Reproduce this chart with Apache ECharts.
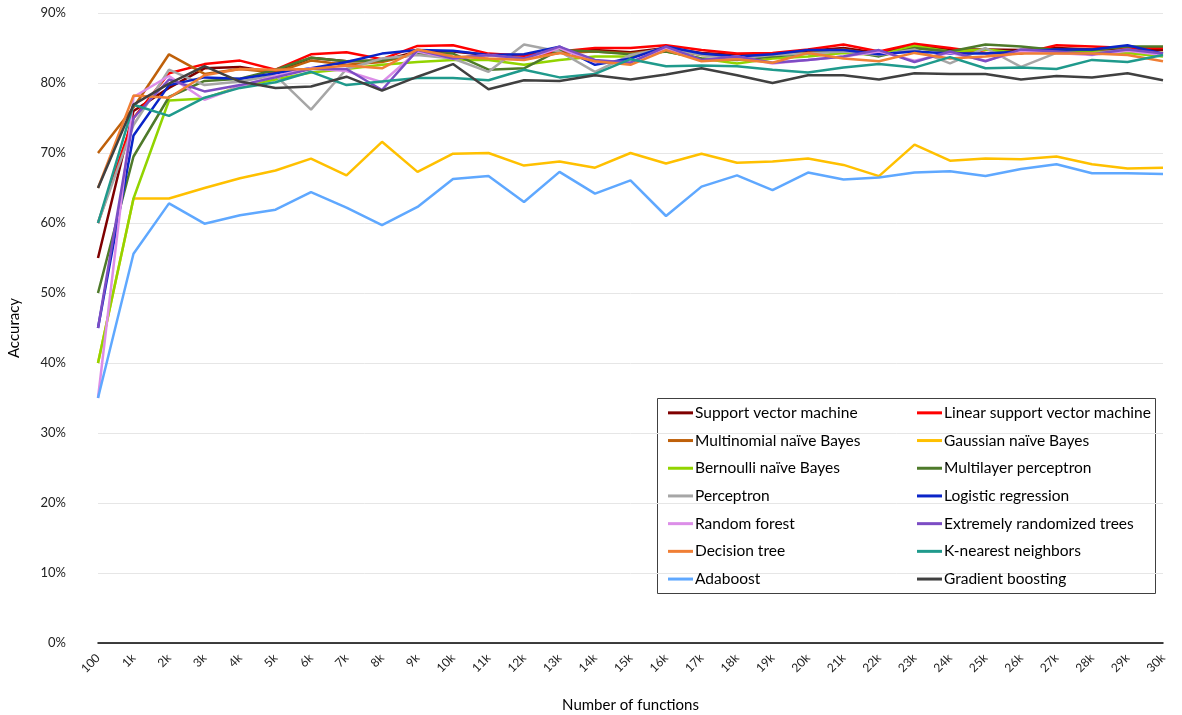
<!DOCTYPE html>
<html>
<head>
<meta charset="utf-8">
<script src="https://cdn.jsdelivr.net/npm/echarts@6/dist/echarts.min.js"></script>
<style>html,body{margin:0;padding:0;background:#fff;}#c{width:1182px;height:715px;}</style>
</head>
<body>
<div id="c"></div>
<script>
const categories = ['100','1k','2k','3k','4k','5k','6k','7k','8k','9k','10k','11k','12k','13k','14k','15k','16k','17k','18k','19k','20k','21k','22k','23k','24k','25k','26k','27k','28k','29k','30k'];
const yTicks = [0,10,20,30,40,50,60,70,80,90];

const svm = [55,76,79.3,82.1,82.3,81.5,83.6,83.1,83.2,84.5,84.5,84.0,84.0,84.5,84.7,84.4,85.0,84.3,84.0,84.2,84.6,85.0,84.3,85.3,84.8,84.8,84.7,85.0,84.8,84.8,84.7];
const linearSvm = [60,75,81.4,82.7,83.2,81.9,84.1,84.4,83.4,85.3,85.4,84.2,83.9,84.5,85.0,85.0,85.4,84.7,84.2,84.3,84.8,85.5,84.5,85.6,85.0,84.3,84.2,85.4,85.2,85.0,85.0];
const multinomialNB = [70,76.5,84.1,81.3,82.0,81.5,83.2,82.6,83.0,84.2,83.6,84.0,83.5,84.3,84.5,84.2,84.8,84.0,83.8,84.0,84.3,84.8,84.0,85.0,84.5,84.3,84.3,84.7,84.3,84.5,84.3];
const gaussianNB = [40,63.5,63.5,65.0,66.4,67.5,69.2,66.8,71.6,67.3,69.9,70.0,68.2,68.8,67.9,70.0,68.5,69.9,68.6,68.8,69.2,68.3,66.7,71.2,68.9,69.2,69.1,69.5,68.4,67.8,67.9];
const bernoulliNB = [40,63.5,77.5,77.8,79.5,80.5,81.5,82.0,82.6,83.0,83.3,83.3,82.6,83.3,83.8,83.8,84.5,83.5,82.8,83.5,83.8,84.3,84.0,85.3,84.5,84.8,84.3,84.5,84.5,84.3,83.8];
const mlp = [50,69.5,78.0,80.3,80.6,81.9,83.6,83.1,83.2,84.2,84.2,81.9,82.1,84.7,84.5,84.1,84.5,83.5,83.3,83.8,84.2,84.7,83.8,85.0,84.5,85.5,85.2,84.7,84.7,85.2,85.2];
const perceptron = [60,74,81.9,79.7,80.2,81.1,76.2,82.0,83.5,84.0,83.5,81.6,85.5,84.5,81.6,84.0,85.0,84.0,83.5,84.0,84.2,84.5,84.0,84.8,82.8,85.0,82.3,84.3,84.2,84.8,84.0];
const logistic = [45,72.5,79.7,80.8,80.6,81.4,82.1,83.0,84.2,84.7,84.6,84.0,84.1,85.2,82.6,83.5,85.2,84.2,83.8,84.1,84.7,84.7,84.1,84.5,84.2,84.2,84.5,84.8,84.8,85.4,84.2];
const randomForest = [35,78,81.0,77.6,79.5,81.0,82.1,81.7,80.1,84.5,83.5,84.0,83.4,85.0,83.0,83.0,85.0,83.2,83.8,82.8,83.3,83.8,84.5,83.2,84.3,83.2,84.5,84.3,84.0,84.6,84.0];
const extraTrees = [45,75,80.5,78.8,79.7,80.8,82.0,82.0,79.0,84.7,83.5,84.0,83.5,85.2,83.3,82.9,85.2,83.3,83.8,82.9,83.3,83.8,84.7,83.0,84.5,83.1,84.8,84.5,84.1,84.8,84.2];
const decisionTree = [65,78.2,77.9,81.1,82.0,81.9,82.0,82.5,82.1,84.8,83.8,83.5,83.3,84.3,83.1,82.6,84.7,83.1,83.4,82.9,84.3,83.5,83.1,84.3,83.5,83.8,84.2,84.2,84.2,84.0,83.1];
const knn = [60,76.9,75.3,77.9,79.3,80.1,81.6,79.7,80.2,80.7,80.7,80.4,81.9,80.8,81.3,83.4,82.4,82.5,82.4,81.9,81.5,82.2,82.7,82.2,83.7,82.1,82.2,82.0,83.3,83.0,84.0];
const adaboost = [35,55.6,62.8,59.9,61.1,61.9,64.4,62.2,59.7,62.3,66.3,66.7,63.0,67.3,64.2,66.1,61.0,65.2,66.8,64.7,67.2,66.2,66.5,67.2,67.4,66.7,67.7,68.4,67.1,67.1,67.0];
const gradientBoosting = [65,76.9,79.9,82.4,80.2,79.3,79.5,80.9,78.9,80.9,82.7,79.1,80.4,80.3,81.1,80.5,81.2,82.1,81.1,80.0,81.1,81.1,80.5,81.4,81.3,81.3,80.5,81.0,80.8,81.4,80.4];

const seriesDefs = [
  ['Support vector machine', svm, '#7f0000'],
  ['Linear support vector machine', linearSvm, '#ff0000'],
  ['Multinomial naïve Bayes', multinomialNB, '#bf600a'],
  ['Gaussian naïve Bayes', gaussianNB, '#ffc000'],
  ['Bernoulli naïve Bayes', bernoulliNB, '#92d400'],
  ['Multilayer perceptron', mlp, '#4e7a2a'],
  ['Perceptron', perceptron, '#a6a6a6'],
  ['Logistic regression', logistic, '#0a24c8'],
  ['Random forest', randomForest, '#dc8ee8'],
  ['Extremely randomized trees', extraTrees, '#7c4dc4'],
  ['Decision tree', decisionTree, '#f07f35'],
  ['K-nearest neighbors', knn, '#1f9a8c'],
  ['Adaboost', adaboost, '#5fa8ff'],
  ['Gradient boosting', gradientBoosting, '#404040']
];

const FONT = 'Lato';
const chart = echarts.init(document.getElementById('c'), null, {renderer: 'canvas'});
const names = seriesDefs.map(d => d[0]);
const col1 = names.filter((_, i) => i % 2 === 0);
const col2 = names.filter((_, i) => i % 2 === 1);
const legendCommon = {
  orient: 'vertical', top: 399, itemWidth: 25, itemHeight: 3, icon: 'rect', itemGap: 10,
  textStyle: {fontFamily: FONT, fontSize: 15.5, color: '#000', lineHeight: 17.7, padding: [0,0,0,-3]}
};
chart.setOption({
  animation: false,
  backgroundColor: '#fff',
  textStyle: {fontFamily: FONT},
  grid: {left: 98, right: 19, top: 13, bottom: 72, containLabel: false, outerBoundsMode: 'none'},
  xAxis: {
    type: 'category', data: categories, boundaryGap: false,
    name: 'Number of functions', nameLocation: 'middle', nameGap: 55,
    nameTextStyle: {fontFamily: FONT, fontSize: 15, color: '#000'},
    axisLine: {lineStyle: {color: '#000', width: 1.5}},
    axisTick: {show: false},
    axisLabel: {rotate: 45, interval: 0, fontFamily: FONT, fontSize: 12, color: '#222', margin: 13}
  },
  yAxis: {
    type: 'value', min: yTicks[0], max: yTicks[yTicks.length-1], interval: 10,
    name: 'Accuracy', nameLocation: 'middle', nameGap: 76, nameRotate: 90,
    nameTextStyle: {fontFamily: FONT, fontSize: 15, color: '#000'},
    axisLine: {show: false}, axisTick: {show: false},
    axisLabel: {formatter: '{value}%', fontFamily: FONT, fontSize: 13, color: '#222', margin: 32},
    splitLine: {lineStyle: {color: '#e6e6e6', width: 1}}
  },
  legend: [
    Object.assign({left: 663, data: col1}, legendCommon),
    Object.assign({left: 912, data: col2}, legendCommon)
  ],
  graphic: [{
    type: 'rect', left: 657, top: 398, z: 0,
    shape: {width: 498, height: 195},
    style: {fill: '#fff', stroke: '#404040', lineWidth: 1}
  }],
  series: seriesDefs.map(d => ({
    name: d[0], type: 'line', data: d[1], showSymbol: false, symbol: 'none',
    color: d[2], lineStyle: {width: 2.5, color: d[2]}, z: 2
  }))
});
</script>
</body>
</html>
